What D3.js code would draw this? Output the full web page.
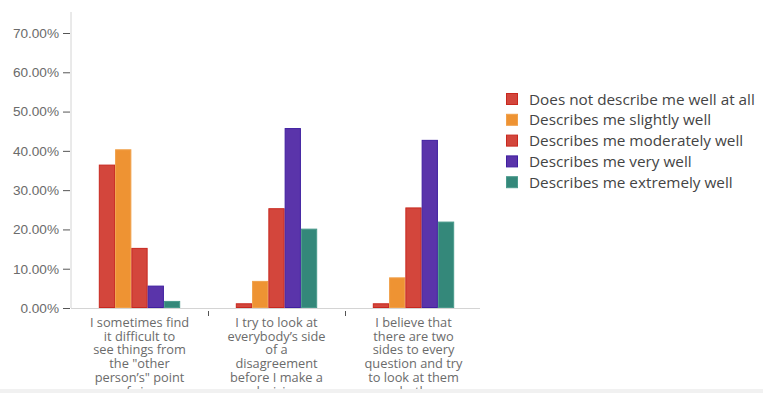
<!DOCTYPE html>
<html>
<head>
<meta charset="utf-8">
<script src="https://cdn.jsdelivr.net/npm/d3@7"></script>
<style>
  body { margin: 0; background: #fff; }
  svg { display: block; font-family: "Open Sans", sans-serif; }
  .axis text { fill: #6b6b6b; font-size: 13.6px; }
  .y.axis .tick line { stroke: #555; }
</style>
</head>
<body>
<script>
var categories = [
  ['I sometimes find', 'it difficult to', 'see things from', 'the "other', 'person\u2019s" point', 'of view'],
  ['I try to look at', 'everybody\u2019s side', 'of a', 'disagreement', 'before I make a', 'decision'],
  ['I believe that', 'there are two', 'sides to every', 'question and try', 'to look at them', 'both']
];
var series = [
  'Does not describe me well at all',
  'Describes me slightly well',
  'Describes me moderately well',
  'Describes me very well',
  'Describes me extremely well'
];
var colors = ['#d3463c', '#ee9333', '#d3463c', '#5a34aa', '#34887a'];
var strokes = ['#c8281f', '#f0a04a', '#c8281f', '#3f1fa0', '#4a9a8c'];
// values per category, in series order (percent)
var values = [
  [36.5, 40.4, 15.3, 5.7, 1.8],
  [1.2, 6.9, 25.4, 45.8, 20.2],
  [1.2, 7.8, 25.6, 42.8, 22.0]
];
var yTicks = [0, 10, 20, 30, 40, 50, 60, 70];

var margin = {top: 12, left: 71},
    width = 411,
    height = 296;

var svg = d3.select('body').append('svg')
    .attr('width', 763)
    .attr('height', 393);

var main = svg.append('g')
    .attr('transform', 'translate(' + margin.left + ',' + margin.top + ')');

var x0 = d3.scaleBand()
    .domain(d3.range(categories.length))
    .range([0, width]);

var x1 = d3.scaleBand()
    .domain(d3.range(series.length))
    .range([x0.bandwidth() * 0.203, x0.bandwidth() * 0.797]);

var y = d3.scaleLinear()
    .domain([0, 70])
    .range([height, height - 275]);

// y axis
var yAxis = d3.axisLeft(y)
    .tickValues(yTicks)
    .tickSize(7)
    .tickPadding(5)
    .tickFormat(function(d) { return d.toFixed(2) + '%'; });

var gy = main.append('g')
    .attr('class', 'y axis')
    .call(yAxis);
gy.select('.domain').remove();
gy.selectAll('.tick line').attr('x1', -8).attr('x2', -1);
gy.append('line')
    .attr('x1', 0).attr('x2', 0)
    .attr('y1', 0).attr('y2', height)
    .attr('stroke', '#d4d4d4');

// x axis
var gx = main.append('g')
    .attr('class', 'x axis')
    .attr('transform', 'translate(0,' + height + ')');
gx.append('line')
    .attr('x1', 0).attr('x2', width - 2)
    .attr('y1', 0.5).attr('y2', 0.5)
    .attr('stroke', '#d4d4d4');
gx.selectAll('.sep')
    .data([1, 2])
    .enter().append('line')
    .attr('x1', function(d) { return x0(d) + 0.5; })
    .attr('x2', function(d) { return x0(d) + 0.5; })
    .attr('y1', 3).attr('y2', 8)
    .attr('stroke', '#555');

gx.selectAll('.lbl')
    .data(categories)
    .enter().append('text')
    .attr('text-anchor', 'middle')
    .attr('fill', '#6b6b6b')
    .style('font-size', '12.8px')
    .attr('transform', function(d, i) { return 'translate(' + (x0(i) + x0.bandwidth() / 2) + ',19)'; })
    .selectAll('tspan')
    .data(function(d) { return d; })
    .enter().append('tspan')
    .attr('x', 0)
    .attr('dy', function(d, i) { return i === 0 ? 0 : 13.7; })
    .text(function(d) { return d; });

// bars
var groups = main.selectAll('.grp')
    .data(values)
    .enter().append('g')
    .attr('transform', function(d, i) { return 'translate(' + x0(i) + ',0)'; });

groups.selectAll('rect')
    .data(function(d) { return d; })
    .enter().append('rect')
    .attr('x', function(d, i) { return x1(i) + 0.5; })
    .attr('y', function(d) { return y(d) + 0.5; })
    .attr('width', x1.bandwidth() - 1)
    .attr('height', function(d) { return Math.max(0, height - y(d) - 1); })
    .attr('fill', function(d, i) { return colors[i]; })
    .attr('stroke', function(d, i) { return strokes[i]; })
    .attr('stroke-width', 1);

// legend
var legend = svg.append('g')
    .attr('transform', 'translate(506,93)');
var item = legend.selectAll('.item')
    .data(series)
    .enter().append('g')
    .attr('transform', function(d, i) { return 'translate(0,' + (i * 20.8) + ')'; });
item.append('rect')
    .attr('x', 0.5).attr('y', 0.5)
    .attr('width', 11).attr('height', 11)
    .attr('fill', function(d, i) { return colors[i]; })
    .attr('stroke', function(d, i) { return strokes[i]; });
item.append('text')
    .attr('x', 23)
    .attr('y', 11.5)
    .attr('fill', '#444')
    .style('font-size', '15.3px')
    .text(function(d) { return d; });

// bottom band
svg.append('rect')
    .attr('x', 0).attr('y', 389)
    .attr('width', 763).attr('height', 4)
    .attr('fill', '#f1f1f1');
</script>
</body>
</html>
